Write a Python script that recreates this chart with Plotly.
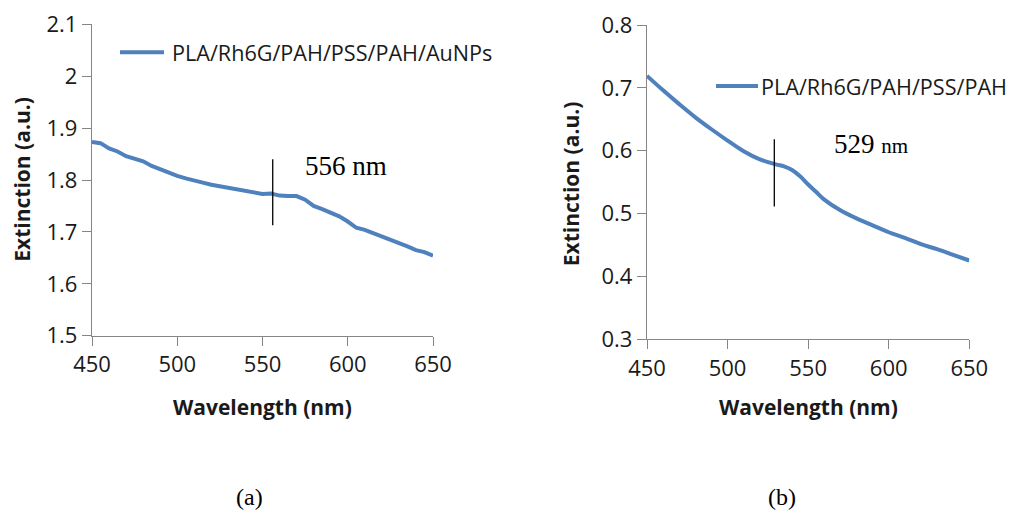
import plotly.graph_objects as go

# ---- data -------------------------------------------------------------
wl_a = [450, 455, 460, 465, 470, 475, 480, 485, 490, 495, 500, 505, 510, 515,
        520, 525, 530, 535, 540, 545, 550, 555, 560, 565, 570, 575, 580, 585,
        590, 595, 600, 605, 610, 615, 620, 625, 630, 635, 640, 645, 650]
ext_a = [1.873, 1.871, 1.861, 1.855, 1.846, 1.840, 1.836, 1.827, 1.820, 1.815,
         1.808, 1.803, 1.798, 1.795, 1.791, 1.788, 1.785, 1.781, 1.778, 1.776,
         1.773, 1.774, 1.770, 1.769, 1.769, 1.762, 1.750, 1.744, 1.738, 1.730,
         1.720, 1.708, 1.704, 1.698, 1.690, 1.684, 1.679, 1.672, 1.665, 1.661,
         1.654]

wl_b = [450, 460, 470, 480, 490, 500, 510, 520, 530, 535, 540, 545, 550, 555,
        560, 570, 580, 590, 600, 610, 620, 630, 640, 650]
ext_b = [0.719, 0.696, 0.674, 0.653, 0.634, 0.616, 0.599, 0.586, 0.578, 0.575,
         0.569, 0.559, 0.546, 0.534, 0.522, 0.505, 0.492, 0.481, 0.470, 0.461,
         0.451, 0.443, 0.434, 0.425]

name_a = "PLA/Rh6G/PAH/PSS/PAH/AuNPs"
name_b = "PLA/Rh6G/PAH/PSS/PAH"

# peak markers: wavelength and vertical extent of the tick line
peak_a = 556
peak_a_span = [1.713, 1.840]
peak_b = 529
peak_b_span = [0.511, 0.618]

x_ticks = [450, 500, 550, 600, 650]
x_ticktext = ["450", "500", "550", "600", "650"]
y_ticks_a = [1.5, 1.6, 1.7, 1.8, 1.9, 2.0, 2.1]
y_ticktext_a = ["1.5", "1.6", "1.7", "1.8", "1.9", "2", "2.1"]
y_ticks_b = [0.3, 0.4, 0.5, 0.6, 0.7, 0.8]
y_ticktext_b = ["0.3", "0.4", "0.5", "0.6", "0.7", "0.8"]

# ---- styling ----------------------------------------------------------
W, H = 1014, 513
LINE = "#4F81BD"
AXIS = "#868686"
TXT = "#1a1a1a"
SANS = "Open Sans"
SERIF = "Liberation Serif, Times New Roman, serif"


def px(x):
    return x / W


def py(y):
    return 1 - y / H


fig = go.Figure()
fig.add_trace(go.Scatter(x=wl_a, y=ext_a, mode="lines", name=name_a,
                         line=dict(color=LINE, width=4), xaxis="x", yaxis="y",
                         showlegend=False))
fig.add_trace(go.Scatter(x=wl_b, y=ext_b, mode="lines", name=name_b,
                         line=dict(color=LINE, width=4, shape="spline"),
                         xaxis="x2", yaxis="y2", showlegend=False))

axis_common = dict(showline=True, linecolor=AXIS, linewidth=1.3,
                   ticks="outside", ticklen=9, tickcolor=AXIS, tickwidth=1.3,
                   showgrid=False, zeroline=False, automargin=False,
                   tickfont=dict(family=SANS, size=22, color=TXT))

fig.update_layout(
    template="none",
    width=W, height=H,
    margin=dict(l=0, r=0, t=0, b=0, pad=0, autoexpand=False),
    paper_bgcolor="white", plot_bgcolor="white",
    xaxis=dict(domain=[px(92), px(433)], range=[450, 650], anchor="y",
               tickvals=x_ticks, ticktext=x_ticktext, **axis_common),
    yaxis=dict(domain=[py(335.7), py(24.3)], range=[1.5, 2.1], anchor="x",
               tickvals=y_ticks_a, ticktext=y_ticktext_a, **axis_common),
    xaxis2=dict(domain=[px(647), px(969.3)], range=[450, 650], anchor="y2",
                tickvals=x_ticks, ticktext=x_ticktext, **axis_common),
    yaxis2=dict(domain=[py(339), py(25)], range=[0.3, 0.8], anchor="x2",
                tickvals=y_ticks_b, ticktext=y_ticktext_b, **axis_common),
)

# peak marker lines
fig.add_shape(type="line", xref="x", yref="y", x0=peak_a, x1=peak_a,
              y0=peak_a_span[0], y1=peak_a_span[1],
              line=dict(color="black", width=1.3))
fig.add_shape(type="line", xref="x2", yref="y2", x0=peak_b, x1=peak_b,
              y0=peak_b_span[0], y1=peak_b_span[1],
              line=dict(color="black", width=1.3))

# peak labels
fig.add_annotation(xref="x", yref="y", x=574, y=1.8275, xanchor="left",
                   yanchor="middle", showarrow=False,
                   text=f"{peak_a} nm",
                   font=dict(family=SERIF, size=27, color="black"))
fig.add_annotation(xref="x2", yref="y2", x=565, y=0.6105, xanchor="left",
                   yanchor="middle", showarrow=False,
                   text=f"{peak_b} <span style='font-size:21px'>nm</span>",
                   font=dict(family=SERIF, size=27, color="black"))

# legend keys
fig.add_shape(type="line", xref="paper", yref="paper", x0=px(120), x1=px(164),
              y0=py(52.3), y1=py(52.3), line=dict(color=LINE, width=4))
fig.add_annotation(xref="paper", yref="paper", x=px(170), y=py(52.5),
                   xanchor="left", yanchor="middle", showarrow=False,
                   text=name_a, font=dict(family=SANS, size=21.6, color=TXT))
fig.add_shape(type="line", xref="paper", yref="paper", x0=px(716), x1=px(758),
              y0=py(86), y1=py(86), line=dict(color=LINE, width=4))
fig.add_annotation(xref="paper", yref="paper", x=px(759), y=py(86.5),
                   xanchor="left", yanchor="middle", showarrow=False,
                   text=name_b, font=dict(family=SANS, size=21.6, color=TXT))

# axis titles
title_font = dict(family=SANS, size=21, color=TXT, weight="bold")
for xc, yc in [(21.7, 179), (571.7, 183.5)]:
    fig.add_annotation(xref="paper", yref="paper", x=px(xc), y=py(yc),
                       xanchor="center", yanchor="middle", showarrow=False,
                       textangle=-90, text="Extinction (a.u.)", font=title_font)
for xc in [262, 808]:
    fig.add_annotation(xref="paper", yref="paper", x=px(xc), y=py(407),
                       xanchor="center", yanchor="middle", showarrow=False,
                       text="Wavelength (nm)", font=title_font)

# panel captions
for xc, lab in [(249, "(a)"), (782, "(b)")]:
    fig.add_annotation(xref="paper", yref="paper", x=px(xc), y=py(497),
                       xanchor="center", yanchor="middle", showarrow=False,
                       text=lab, font=dict(family=SERIF, size=24, color="black"))

fig.write_html("out.html")
